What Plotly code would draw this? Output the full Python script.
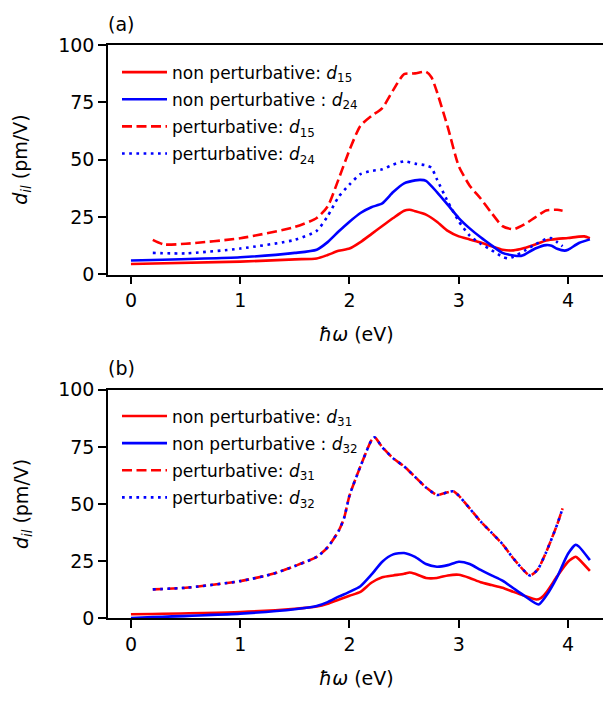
import plotly.graph_objects as go

# ---------------- data ----------------
# panel (a)
x_np15 = [0, 1, 1.5, 1.7, 1.8, 1.9, 2.0, 2.1, 2.2, 2.3, 2.4, 2.5, 2.55, 2.6, 2.7, 2.8, 2.9, 3.0, 3.1, 3.2, 3.3,
          3.4, 3.5, 3.6, 3.7, 3.8, 3.9, 4.0, 4.1, 4.15, 4.2]
y_np15 = [4.6, 5.6, 6.6, 7.0, 8.5, 10.3, 11.3, 14.1, 17.6, 21.1, 24.6, 27.8, 28.2, 27.6, 26.1, 23.0, 19.0, 16.6,
          15.3, 13.9, 12.3, 10.8, 10.5, 11.5, 13.1, 14.8, 15.5, 15.9, 16.5, 16.6, 15.8]

x_np24 = [0, 1, 1.5, 1.7, 1.8, 1.9, 2.0, 2.1, 2.2, 2.3, 2.4, 2.5, 2.6, 2.65, 2.7, 2.8, 2.9, 3.0, 3.1, 3.2, 3.3,
          3.4, 3.5, 3.57, 3.6, 3.7, 3.8, 3.85, 3.9, 3.97, 4.0, 4.1, 4.2]
y_np24 = [6.1, 7.5, 9.4, 10.8, 14.1, 18.7, 23.0, 26.8, 29.3, 31.0, 35.9, 39.7, 41.0, 41.2, 40.8, 35.9, 30.3, 24.6,
          20.1, 16.2, 12.7, 9.4, 8.3, 8.1, 8.6, 11.3, 12.8, 12.5, 11.2, 10.4, 10.8, 13.7, 15.3]

x_p15 = [0.2, 0.3, 0.5, 1.0, 1.5, 1.7, 1.8, 1.9, 2.0, 2.1, 2.2, 2.3, 2.4, 2.5, 2.6, 2.7, 2.75, 2.8, 2.9, 3.0,
         3.1, 3.2, 3.3, 3.4, 3.5, 3.6, 3.7, 3.8, 3.9, 3.95]
y_p15 = [15.1, 13.1, 13.4, 15.8, 20.7, 24.6, 29.6, 41.5, 54.2, 64.8, 69.0, 72.5, 80.3, 87.3, 87.6, 88.3, 85.9,
         79.6, 64.1, 47.2, 38.7, 33.1, 26.8, 21.1, 19.7, 21.8, 24.9, 27.9, 28.2, 27.8]

x_p24 = [0.2, 0.5, 1.0, 1.5, 1.7, 1.8, 1.9, 2.0, 2.1, 2.2, 2.3, 2.4, 2.5, 2.6, 2.7, 2.75, 2.8, 2.9, 3.0, 3.1,
         3.2, 3.3, 3.4, 3.45, 3.5, 3.6, 3.7, 3.8, 3.85, 3.9, 3.95]
y_p24 = [9.4, 9.2, 11.3, 15.1, 19.0, 25.4, 33.8, 39.2, 43.7, 45.1, 45.8, 47.9, 49.3, 48.3, 47.5, 46.5, 41.5,
         31.7, 23.2, 16.9, 13.4, 10.6, 7.7, 7.0, 7.7, 10.3, 13.1, 15.5, 15.8, 14.1, 12.3]

# panel (b)
x_np31 = [0, 1, 1.5, 1.7, 1.8, 1.9, 2.0, 2.1, 2.2, 2.3, 2.4, 2.5, 2.55, 2.6, 2.7, 2.8, 2.9, 3.0, 3.1, 3.2, 3.3,
          3.4, 3.5, 3.6, 3.71, 3.75, 3.8, 3.9, 4.0, 4.07, 4.1, 4.2]
y_np31 = [1.8, 2.8, 4.2, 5.2, 6.4, 8.2, 9.9, 11.6, 15.6, 18.0, 18.8, 19.5, 20.1, 19.5, 17.7, 17.7, 18.8, 19.1,
          17.7, 15.8, 14.6, 13.4, 11.6, 9.9, 8.3, 8.9, 11.3, 18.4, 24.8, 27.0, 25.9, 20.8]

x_np32 = [0, 1, 1.5, 1.7, 1.8, 1.9, 2.0, 2.1, 2.2, 2.3, 2.4, 2.5, 2.6, 2.7, 2.8, 2.9, 3.0, 3.1, 3.2, 3.3, 3.4,
          3.5, 3.6, 3.73, 3.8, 3.9, 4.0, 4.07, 4.1, 4.2]
y_np32 = [0.2, 2.1, 4.0, 5.4, 7.1, 9.5, 11.6, 14.1, 19.1, 24.8, 28.0, 28.6, 26.9, 23.8, 22.6, 23.3, 24.8, 23.8,
          21.2, 18.8, 16.5, 13.2, 9.9, 6.1, 9.9, 18.1, 28.3, 32.2, 31.4, 25.5]

x_p3 = [0.2, 0.5, 1.0, 1.3, 1.5, 1.7, 1.8, 1.9, 1.95, 2.0, 2.1, 2.2, 2.23, 2.3, 2.4, 2.5, 2.6, 2.7, 2.8, 2.9,
        2.95, 3.0, 3.1, 3.2, 3.3, 3.4, 3.5, 3.65, 3.72, 3.8, 3.9, 3.95]
y_p31 = [12.7, 13.4, 16.3, 19.5, 22.9, 26.9, 31.1, 38.2, 43.8, 53.7, 66.5, 77.8, 79.2, 74.9, 70.0, 66.5, 61.9,
         57.3, 54.0, 55.2, 55.6, 53.7, 48.1, 42.4, 37.5, 32.5, 26.2, 18.8, 21.2, 29.0, 41.0, 48.1]
y_p32 = list(y_p31)

x_ticks = [0, 1, 2, 3, 4]
y_ticks = [0, 25, 50, 75, 100]

RED = "#ff0000"
BLUE = "#0000ff"
FONT = "DejaVu Sans"
LW = 2.6
DASH = "10px,4.5px"
DOT = "2.7px,4.5px"

fig = go.Figure()


def add(x, y, color, dash, name, xa, ya, legend, grp):
    fig.add_trace(go.Scatter(
        x=x, y=y, mode="lines", name=name,
        line=dict(color=color, width=LW, dash=dash, shape="spline", smoothing=0.6),
        xaxis=xa, yaxis=ya, legend=legend, legendgroup=grp,
    ))


add(x_np15, y_np15, RED, "solid", "non perturbative: <i>d</i><sub>15</sub>", "x", "y", "legend", "a1")
add(x_np24, y_np24, BLUE, "solid", "non perturbative : <i>d</i><sub>24</sub>", "x", "y", "legend", "a2")
add(x_p15, y_p15, RED, DASH, "perturbative: <i>d</i><sub>15</sub>", "x", "y", "legend", "a3")
add(x_p24, y_p24, BLUE, DOT, "perturbative: <i>d</i><sub>24</sub>", "x", "y", "legend", "a4")

add(x_np31, y_np31, RED, "solid", "non perturbative: <i>d</i><sub>31</sub>", "x2", "y2", "legend2", "b1")
add(x_np32, y_np32, BLUE, "solid", "non perturbative : <i>d</i><sub>32</sub>", "x2", "y2", "legend2", "b2")
add(x_p3, y_p31, RED, DASH, "perturbative: <i>d</i><sub>31</sub>", "x2", "y2", "legend2", "b3")
add(x_p3, y_p32, BLUE, DOT, "perturbative: <i>d</i><sub>32</sub>", "x2", "y2", "legend2", "b4")

W, H = 603, 704
L = 108
PW = W - L


def ydom(top_px, bot_px):
    return [1 - bot_px / H, 1 - top_px / H]


axis_common = dict(
    showline=True, linecolor="black", linewidth=1.6,
    ticks="outside", ticklen=8, tickwidth=1.6, tickcolor="black",
    tickfont=dict(family=FONT, size=19, color="black"),
    showgrid=False, zeroline=False,
)

fig.update_layout(
    width=W, height=H,
    margin=dict(l=L, r=0, t=0, b=0),
    paper_bgcolor="white", plot_bgcolor="white",
    font=dict(family=FONT, color="black"),
    xaxis=dict(axis_common, range=[-0.21, 4.32], tickvals=x_ticks, mirror=True, anchor="y",
               domain=[0, 1]),
    yaxis=dict(axis_common, range=[0, 100], tickvals=y_ticks, domain=ydom(35, 272), anchor="x"),
    xaxis2=dict(axis_common, range=[-0.21, 4.32], tickvals=x_ticks, mirror=True, anchor="y2",
                domain=[0, 1]),
    yaxis2=dict(axis_common, range=[0, 100], tickvals=y_ticks, domain=ydom(391, 627), anchor="x2"),
    legend=dict(x=(117 - L) / PW, y=1 - 45 / H, xanchor="left", yanchor="top",
                bgcolor="rgba(0,0,0,0)", font=dict(family=FONT, size=17, color="black"),
                itemwidth=45, tracegroupgap=2),
    legend2=dict(x=(117 - L) / PW, y=1 - 400 / H, xanchor="left", yanchor="top",
                 bgcolor="rgba(0,0,0,0)", font=dict(family=FONT, size=17, color="black"),
                 itemwidth=45, tracegroupgap=2),
)


def px_x(p):
    return (p - L) / PW


annots = []
for top, bot, lab in [(35, 272, "(a)"), (391, 627, "(b)")]:
    annots.append(dict(text=lab, x=px_x(121), y=1 - (top - 22) / H, xref="paper", yref="paper",
                       xanchor="center", yanchor="middle", showarrow=False,
                       font=dict(family=FONT, size=19, color="black")))
    annots.append(dict(text="<i>d</i><sub><i>il</i></sub> (pm/V)", x=px_x(22), y=1 - (top + bot) / 2 / H,
                       xref="paper", yref="paper", xanchor="center", yanchor="middle", showarrow=False,
                       textangle=-90, font=dict(family=FONT, size=19, color="black")))
    annots.append(dict(text="<i>ħω</i> (eV)", x=px_x(356), y=1 - (bot + 61) / H, xref="paper", yref="paper",
                       xanchor="center", yanchor="middle", showarrow=False,
                       font=dict(family=FONT, size=19, color="black")))
fig.update_layout(annotations=annots)

fig.write_html("out.html")
